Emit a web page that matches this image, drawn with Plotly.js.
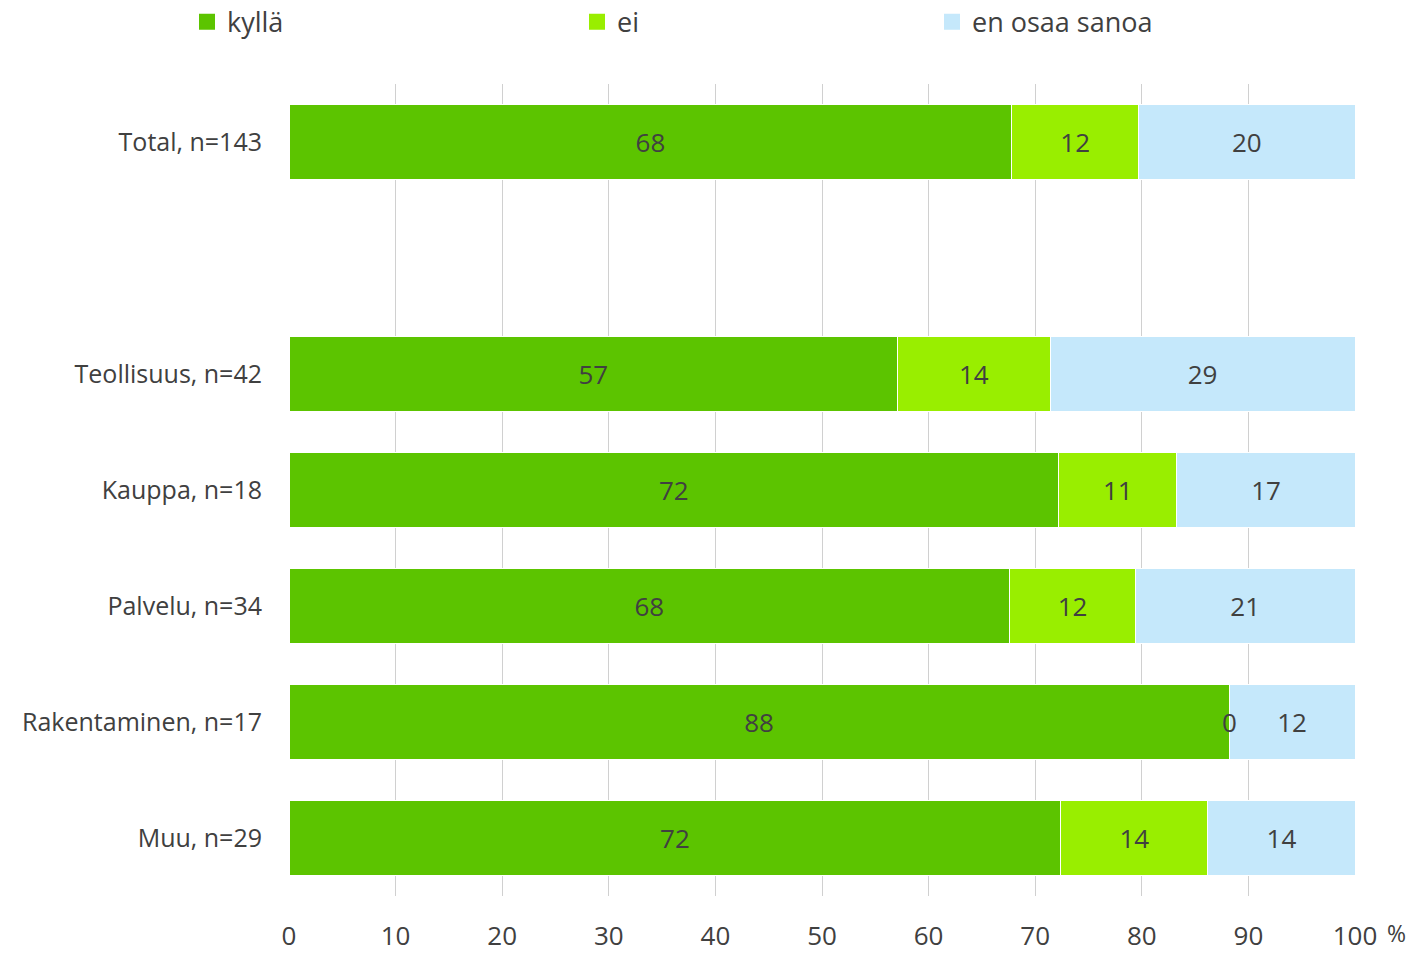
<!DOCTYPE html>
<html>
<head>
<meta charset="utf-8">
<script src="https://cdn.plot.ly/plotly-3.0.1.min.js"></script>
<style>html,body{margin:0;padding:0;background:#fff;}#chart{width:1412px;height:953px;}</style>
</head>
<body>
<div id="chart"></div>
<script>
const categories = ['Total, n=143', ' ', 'Teollisuus, n=42', 'Kauppa, n=18', 'Palvelu, n=34', 'Rakentaminen, n=17', 'Muu, n=29'];
const seriesNames = ['kyllä', 'ei', 'en osaa sanoa'];
const kylla = [67.8, null, 57.1, 72.2, 67.6, 88.2, 72.4];
const ei = [11.9, null, 14.3, 11.1, 11.8, 0, 13.8];
const enOsaa = [20.3, null, 28.6, 16.7, 20.6, 11.8, 13.8];
const xTicks = [0, 10, 20, 30, 40, 50, 60, 70, 80, 90, 100];

const colors = ['#5CC400', '#99EE00', '#C5E8FB'];
const font = '"Open Sans", Lato, sans-serif';
const textColor = '#404040';
const values = [kylla, ei, enOsaa];
const legendNames = ['legend', 'legend2', 'legend3'];
const legendX = [187, 577, 932];   // left pixel of each legend box

const traces = values.map((vals, i) => ({
  type: 'bar',
  orientation: 'h',
  name: seriesNames[i],
  y: categories,
  x: vals,
  marker: {color: colors[i], line: {color: '#ffffff', width: 1}},
  width: 0.65,
  text: vals.map(v => v === null ? '' : Math.round(v).toString()),
  texttemplate: '%{text}',
  textposition: 'inside',
  insidetextanchor: 'middle',
  constraintext: 'none',
  textfont: {family: font, size: 26, color: textColor},
  hoverinfo: 'skip',
  showlegend: false
}));

seriesNames.forEach((n, i) => {
  traces.push({type: 'scatter', mode: 'markers', name: n, x: [null], y: [null],
    marker: {symbol: 'square', size: 18, color: colors[i]}, legend: legendNames[i], showlegend: true, hoverinfo: 'skip'});
});

const annotations = [];
ei.forEach((v, idx) => {
  if (v === 0) {
    annotations.push({x: kylla[idx] + v, y: categories[idx], xref: 'x', yref: 'y', text: '0', showarrow: false,
      font: {family: font, size: 26, color: textColor}});
  }
});
annotations.push({xref: 'paper', yref: 'paper', x: 1.039, y: -0.045, text: '%', showarrow: false,
  font: {family: font, size: 23, color: textColor}, xanchor: 'center', yanchor: 'middle'});

const layout = {
  width: 1412, height: 953,
  margin: {l: 289, r: 57, t: 84, b: 57, autoexpand: false},
  barmode: 'stack',
  paper_bgcolor: '#ffffff', plot_bgcolor: '#ffffff',
  font: {family: font, color: textColor},
  showlegend: true,
  xaxis: {range: [0, 100], tickvals: xTicks, ticktext: xTicks.map(String), showgrid: true, gridcolor: '#D0D0D0', gridwidth: 1,
    zeroline: false, showline: false, ticks: '', ticklabelstandoff: 22,
    tickfont: {family: font, size: 26, color: textColor}, fixedrange: true},
  yaxis: {type: 'category', categoryorder: 'array', categoryarray: categories, autorange: 'reversed',
    showgrid: false, zeroline: false, showline: false, ticks: '', ticklabelstandoff: 26,
    tickfont: {family: font, size: 25, color: textColor}, fixedrange: true},
  annotations: annotations
};
legendNames.forEach((ln, i) => {
  layout[ln] = {orientation: 'h', x: (legendX[i] - 289) / 1066, xanchor: 'left', y: 1.076, yanchor: 'middle',
    xref: 'paper', yref: 'paper', bgcolor: 'rgba(0,0,0,0)', itemsizing: 'trace', itemwidth: 30,
    font: {family: font, size: 27, color: textColor}};
});

Plotly.newPlot('chart', traces, layout, {displayModeBar: false, staticPlot: true});
</script>
</body>
</html>
